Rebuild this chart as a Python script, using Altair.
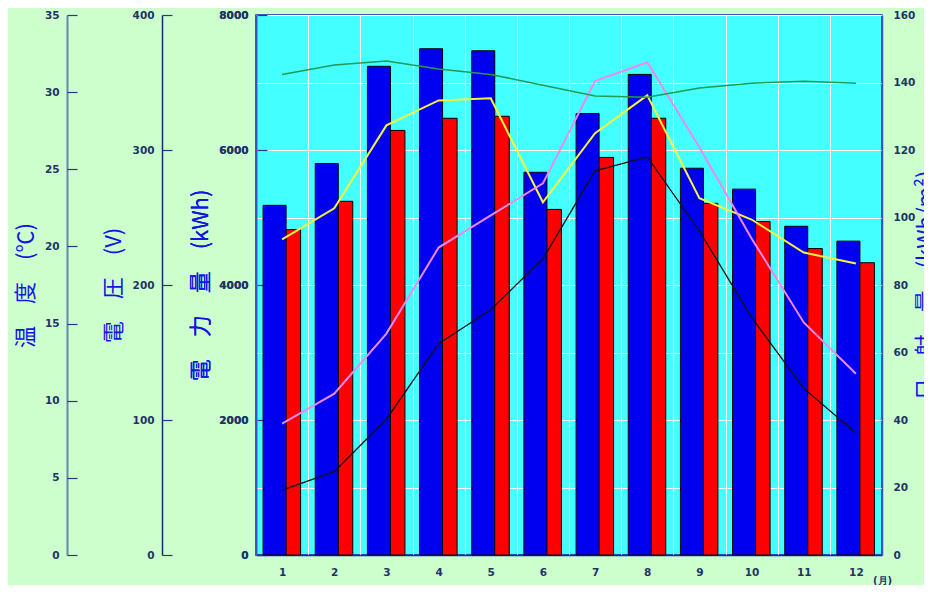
import altair as alt
import pandas as pd

# ---- data ----
months = list(range(1, 13))
gen_blue = [5180, 5800, 7240, 7500, 7470, 5670, 6540, 7120, 5730, 5420, 4870, 4650]
gen_red = [4820, 5240, 6290, 6470, 6500, 5120, 5890, 6470, 5210, 4940, 4540, 4330]
solar_yellow = [93.5, 102.7, 127.3, 134.7, 135.3, 104.5, 125.0, 136.2, 105.7, 99.4, 89.6, 86.4]
solar_violet = [38.9, 47.8, 65.6, 91.1, 100.6, 110.1, 140.4, 146.0, 120.8, 93.8, 68.9, 53.7]
temperature = [4.2, 5.4, 8.8, 13.7, 15.9, 19.2, 24.9, 25.8, 21.0, 15.4, 10.8, 7.9]
voltage = [356, 363, 366, 360, 356, 348, 340, 339, 346, 349.5, 351, 349.5]

temp_ticks = [0, 5, 10, 15, 20, 25, 30, 35]
volt_ticks = [0, 100, 200, 300, 400]
kwh_ticks = [0, 2000, 4000, 6000, 8000]
solar_ticks = [0, 20, 40, 60, 80, 100, 120, 140, 160]

df = pd.DataFrame({
    "month": months,
    "blue": gen_blue,
    "red": gen_red,
    "temp": temperature,
    "volt": voltage,
})
solar_df = pd.DataFrame({
    "month": months * 2,
    "solar": solar_yellow + solar_violet,
    "series": ["yellow"] * 12 + ["violet"] * 12,
})

LABEL_FONT = "DejaVu Sans"
TITLE_FONT = "Noto Sans CJK JP"
LABEL_COLOR = "#1F3366"
TITLE_COLOR = "#1414E6"
TICK_COLOR = "#2A3A80"

common_axis = dict(
    labelFont=LABEL_FONT, labelFontWeight="bold", labelFontSize=10.5, labelColor=LABEL_COLOR,
    titleFont=TITLE_FONT, titleFontSize=22, titleFontWeight="normal", titleColor=TITLE_COLOR,
    titleAngle=270, titleAlign="center", titleBaseline="middle", titleY=270, format="d",
)

x_enc = alt.X(
    "month:O",
    title="(月)",
    scale=alt.Scale(paddingInner=0, paddingOuter=0),
    axis=alt.Axis(
        labelAngle=0, tickBand="extent", ticks=False, grid=True, gridColor="white", gridWidth=1,
        domainColor="#1A2A9A", domainWidth=1.5,
        labelFont=LABEL_FONT, labelFontWeight="bold", labelFontSize=10.5, labelColor=LABEL_COLOR,
        labelPadding=12,
        titleFont=LABEL_FONT, titleFontSize=10, titleFontWeight="bold", titleColor=LABEL_COLOR,
        titleX=626, titleY=25, titleAlign="center", titleBaseline="middle",
    ),
)


def tick_axis(orient, offset, values):
    # an axis that only draws the short ticks, placed so they point toward the plot
    return alt.Axis(orient=orient, offset=offset, values=values, domain=False, labels=False,
                    grid=False, ticks=True, tickSize=10, tickColor=TICK_COLOR, tickWidth=1.2,
                    title=None)


# ---- bars (kWh) ----
kwh_scale = alt.Scale(domain=[0, 8000], nice=False)
kwh_axis = alt.Axis(
    orient="left", values=kwh_ticks, grid=False, ticks=False, labelPadding=8,
    domainColor="#3A50C8", domainWidth=1.5, titleX=-56, **common_axis,
)
kwh_title = "電　力　量　(kWh)"

bars_blue = alt.Chart(df).mark_bar(
    width=23, xOffset=-7.5, color="#0000F0", stroke="black", strokeWidth=1
).encode(x=x_enc, y=alt.Y("blue:Q", scale=kwh_scale, axis=kwh_axis, title=kwh_title))

bars_red = alt.Chart(df).mark_bar(
    width=15, xOffset=11, color="#FF0000", stroke="black", strokeWidth=1
).encode(x=x_enc, y=alt.Y("red:Q", scale=kwh_scale, axis=kwh_axis, title=kwh_title))

bars_ticks = alt.Chart(df).mark_bar(opacity=0).encode(
    x=x_enc, y=alt.Y("blue:Q", scale=kwh_scale, axis=tick_axis("left", -11, kwh_ticks))
)

bars = alt.layer(bars_red, bars_blue, bars_ticks).resolve_axis(y="independent")

# ---- solar radiation lines ----
solar_lines = alt.Chart(solar_df).mark_line(strokeWidth=2).encode(
    x=x_enc,
    y=alt.Y(
        "solar:Q",
        title="日　射　量　(kWh/m²)",
        scale=alt.Scale(domain=[0, 160], nice=False),
        axis=alt.Axis(
            orient="right", values=solar_ticks, grid=True, gridColor="white", gridWidth=1,
            ticks=False, labelPadding=11, domainColor="#3A50C8", domainWidth=1.5,
            titleX=43, **common_axis,
        ),
    ),
    color=alt.Color("series:N", scale=alt.Scale(domain=["yellow", "violet"],
                                                range=["#F4F440", "#EE88EE"]), legend=None),
)

# ---- temperature ----
temp_scale = alt.Scale(domain=[0, 35], nice=False)
temp_line = alt.Chart(df).mark_line(strokeWidth=1.3, color="#101010").encode(
    x=x_enc,
    y=alt.Y(
        "temp:Q",
        title="温　度　(℃)",
        scale=temp_scale,
        axis=alt.Axis(
            orient="left", offset=189, values=temp_ticks, grid=False, ticks=False, labelPadding=8,
            domainColor="#6A84B4", domainWidth=2, titleX=-42, **common_axis,
        ),
    ),
)
temp_tick_layer = alt.Chart(df).mark_line(opacity=0).encode(
    x=x_enc, y=alt.Y("temp:Q", scale=temp_scale, axis=tick_axis("left", 179, temp_ticks))
)
temp_group = alt.layer(temp_line, temp_tick_layer).resolve_axis(y="independent")

# ---- voltage ----
volt_scale = alt.Scale(domain=[0, 400], nice=False)
volt_line = alt.Chart(df).mark_line(strokeWidth=1.5, color="#229955").encode(
    x=x_enc,
    y=alt.Y(
        "volt:Q",
        title="電　圧　(V)",
        scale=volt_scale,
        axis=alt.Axis(
            orient="left", offset=94, values=volt_ticks, grid=False, ticks=False, labelPadding=8,
            domainColor="#1A2A6A", domainWidth=1.5, titleX=-49, **common_axis,
        ),
    ),
)
volt_tick_layer = alt.Chart(df).mark_line(opacity=0).encode(
    x=x_enc, y=alt.Y("volt:Q", scale=volt_scale, axis=tick_axis("left", 84, volt_ticks))
)
volt_group = alt.layer(volt_line, volt_tick_layer).resolve_axis(y="independent")

chart = alt.layer(bars, solar_lines, temp_group, volt_group).resolve_scale(
    y="independent"
).properties(
    width=626,
    height=540,
    padding={"left": 248, "top": 7, "right": 42, "bottom": 30},
    autosize=alt.AutoSizeParams(type="none"),
    background="#CCFFCC",
).configure_view(
    fill="#44FFFF", stroke="#1E1EB4", strokeWidth=1.5
)

chart.save("out.html", embed_options={"renderer": "svg", "actions": False})
